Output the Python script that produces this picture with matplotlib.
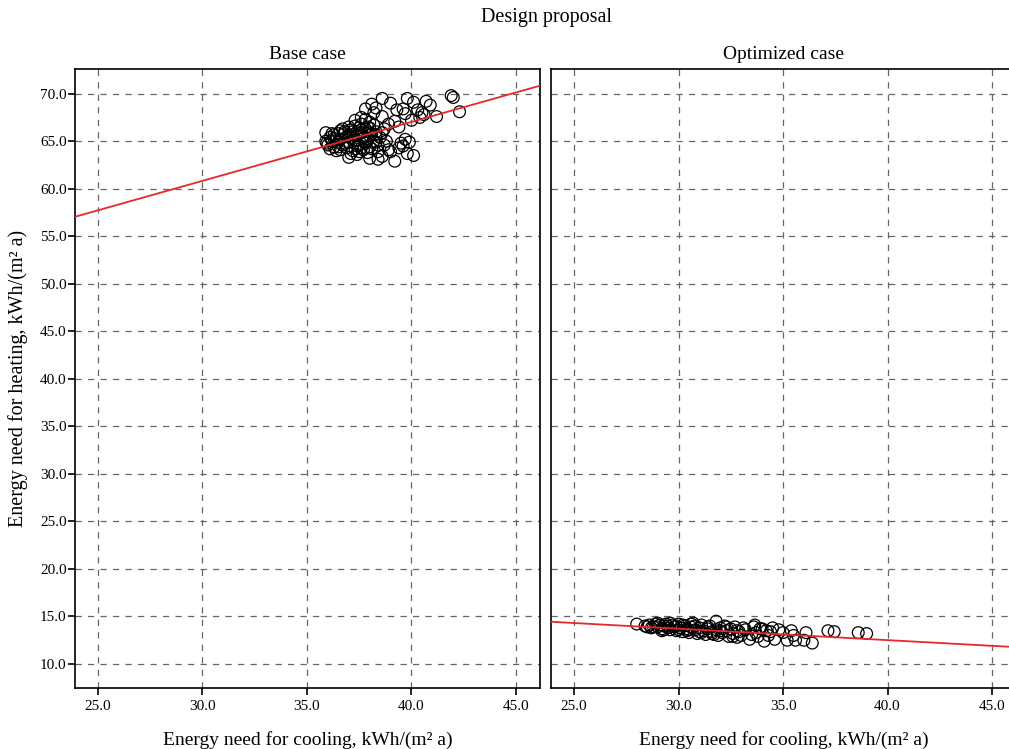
import matplotlib
matplotlib.use("Agg")
import matplotlib.pyplot as plt
import numpy as np

# Base case: cooling vs heating demand, kWh/(m² a)
base_x = [35.9, 36.1, 36.2, 36.3, 36.4, 36.5, 36.6, 36.7, 36.8, 36.9,
          37.0, 37.1, 37.2, 37.3, 37.4, 37.5, 37.6, 37.7, 37.8, 37.9,
          38.0, 38.1, 38.2, 38.3, 38.4, 38.5, 36.0, 36.3, 36.6, 36.9,
          37.2, 37.5, 37.7, 37.9, 38.0, 37.6, 37.8, 37.4, 37.1, 36.8,
          36.4, 36.2, 35.9, 36.7, 37.0, 37.3, 37.6, 37.8, 38.0, 38.2,
          37.7, 37.9, 38.1, 37.5, 37.3, 38.3, 38.6, 38.7, 38.8, 38.4,
          38.0, 37.0, 37.1, 38.4, 39.2, 39.8, 40.1, 39.5, 39.9, 39.7,
          39.6, 39.4, 38.9, 39.0, 38.6, 37.8, 38.1, 38.3, 38.6, 39.0,
          39.3, 39.6, 39.8, 40.1, 40.7, 40.9, 40.5, 41.2, 40.0, 40.6,
          41.9, 42.0, 42.3, 40.3, 40.4, 39.7, 39.2, 38.9, 39.4, 38.6,
          38.2, 37.9, 37.6, 37.3, 36.6, 36.1, 35.95, 36.5, 37.4, 38.7,
          36.3, 36.8, 37.2, 37.6, 38.0, 38.3, 37.0, 37.4, 37.8, 36.5]
base_y = [65.9, 65.4, 65.0, 64.4, 64.0, 65.8, 65.2, 64.6, 66.0, 65.5,
          64.9, 66.2, 65.7, 65.1, 64.5, 66.4, 65.9, 65.3, 64.8, 66.5,
          65.6, 64.2, 65.0, 66.0, 64.6, 65.4, 64.6, 65.7, 66.1, 64.3,
          64.0, 63.9, 64.1, 63.8, 64.4, 64.3, 65.0, 65.6, 65.3, 64.8,
          65.1, 65.8, 65.0, 66.3, 66.5, 66.6, 66.8, 67.3, 67.0, 66.7,
          65.6, 65.2, 65.8, 64.6, 64.2, 64.9, 65.9, 66.3, 65.0, 63.9,
          63.2, 63.3, 63.7, 63.1, 62.9, 63.7, 63.5, 64.8, 64.9, 65.2,
          64.5, 64.3, 64.1, 63.9, 63.4, 68.4, 68.9, 68.5, 69.5, 69.0,
          68.3, 68.4, 69.5, 69.1, 69.2, 68.8, 68.0, 67.6, 67.2, 67.8,
          69.8, 69.6, 68.1, 68.3, 67.5, 67.9, 67.1, 66.8, 66.5, 67.6,
          68.0, 66.0, 67.5, 67.2, 64.1, 64.2, 64.8, 64.4, 63.6, 64.6,
          65.3, 65.8, 66.0, 66.2, 66.4, 65.7, 65.6, 66.0, 66.3, 64.9]

# Optimized case
opt_x = [28.0, 28.4, 28.6, 28.7, 28.9, 29.0, 29.1, 29.2, 29.3, 29.4,
         29.5, 29.6, 29.7, 29.8, 29.9, 30.0, 30.1, 30.2, 30.3, 30.4,
         30.5, 30.6, 30.7, 30.8, 30.9, 31.0, 31.1, 31.2, 31.3, 31.4,
         31.5, 31.6, 31.8, 31.8, 31.9, 32.0, 32.1, 32.2, 32.3, 32.4,
         32.5, 32.6, 32.7, 32.8, 32.9, 33.0, 33.2, 33.4, 33.6, 33.7,
         33.8, 34.0, 34.1, 34.2, 34.3, 34.5, 34.6, 34.8, 35.0, 35.4,
         35.5, 35.6, 36.0, 36.1, 36.4, 37.15, 37.45, 38.6, 39.0, 28.8,
         29.0, 29.3, 29.6, 29.9, 30.2, 30.5, 30.8, 31.1, 31.4, 31.7,
         32.0, 32.3, 32.6, 33.1, 33.5, 34.4, 35.2, 30.0, 29.5, 30.6,
         33.65, 28.5, 29.2, 30.4, 31.0, 31.6, 32.8, 33.9]
opt_y = [14.2, 14.0, 14.1, 13.8, 14.2, 13.9, 14.1, 13.7, 14.0, 14.2,
         13.8, 13.6, 14.1, 13.9, 13.5, 14.2, 13.8, 13.4, 14.0, 13.7,
         13.3, 13.9, 14.3, 13.6, 13.2, 13.8, 14.1, 13.5, 13.1, 13.7,
         14.0, 13.4, 14.5, 13.6, 13.0, 13.8, 13.3, 14.0, 13.5, 12.9,
         13.7, 13.2, 13.9, 12.8, 13.4, 13.0, 13.6, 12.6, 13.9, 13.3,
         12.9, 13.7, 12.4, 13.5, 13.0, 13.8, 12.6, 13.6, 13.3, 13.5,
         13.0, 12.5, 12.5, 13.3, 12.2, 13.5, 13.4, 13.3, 13.2, 13.9,
         14.3, 13.6, 14.3, 14.0, 14.1, 13.6, 14.0, 13.3, 13.9, 13.1,
         13.5, 13.9, 12.9, 13.8, 13.1, 13.4, 12.5, 13.6, 14.0, 14.2,
         14.1, 13.9, 13.5, 13.5, 13.4, 13.2, 13.5, 13.7]

# Linear fits (intercept, slope)
base_fit = (42.23, 0.62)
opt_fit = (17.31, -0.12)

x_ticks = [25.0, 30.0, 35.0, 40.0, 45.0]
y_ticks = [10.0, 15.0, 20.0, 25.0, 30.0, 35.0, 40.0, 45.0, 50.0, 55.0, 60.0, 65.0, 70.0]

plt.rcParams['font.family'] = ['Liberation Serif', 'DejaVu Serif']

fig = plt.figure(figsize=(10.09, 7.49), dpi=100)
w, h = 0.4609, 0.8265
ax1 = fig.add_axes([0.0743, 0.0814, w, h])
ax2 = fig.add_axes([0.5461, 0.0814, w, h])

xlim = (23.9, 46.15)
ylim = (7.47, 72.6)

panels = [(ax1, base_x, base_y, base_fit, "Base case"),
          (ax2, opt_x, opt_y, opt_fit, "Optimized case")]

for ax, xs, ys, fit, title in panels:
    ax.set_xlim(*xlim)
    ax.set_ylim(*ylim)
    ax.set_xticks(x_ticks)
    ax.set_xticklabels([f"{t:.1f}" for t in x_ticks], fontsize=11)
    ax.set_yticks(y_ticks)
    ax.grid(True, linestyle=(0, (5, 5)), color='#666666', linewidth=0.9)
    ax.set_axisbelow(True)
    ax.scatter(xs, ys, s=72, facecolors='none', edgecolors='black', linewidths=0.9, zorder=3)
    fx = np.array(xlim)
    ax.plot(fx, fit[0] + fit[1] * fx, color='#e8262b', linewidth=1.3, zorder=4)
    ax.set_title(title, fontsize=14, pad=7)
    ax.set_xlabel("Energy need for cooling, kWh/(m² a)", fontsize=14, labelpad=13)
    ax.tick_params(direction='out', length=5, width=1.2, color='black')
    for sp in ax.spines.values():
        sp.set_linewidth(1.2)

ax1.set_yticklabels([f"{t:.1f}" for t in y_ticks], fontsize=11)
ax1.tick_params(axis='y', pad=1)
ax2.tick_params(axis='y', length=0, labelleft=False)
ax1.set_ylabel("Energy need for heating, kWh/(m² a)", fontsize=14.5, labelpad=9)

fig.text(0.5415, 0.976, "Design proposal", ha='center', va='center', fontsize=14.5)

fig.savefig("out.png", dpi=100)
